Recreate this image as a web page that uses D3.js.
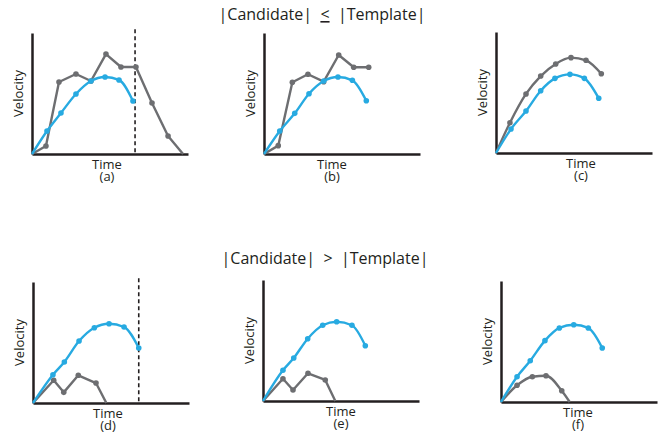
<!DOCTYPE html>
<html>
<head>
<meta charset="utf-8">
<script src="https://d3js.org/d3.v7.min.js"></script>
<style>
  body { margin: 0; background: #fff; }
  svg { display: block; font-family: "Open Sans", "Liberation Sans", sans-serif; }
  .axis path { stroke: #231f20; stroke-width: 2.5; }
  .lbl { font-size: 13px; fill: #231f20; }
  .title { font-size: 16px; fill: #231f20; }
</style>
</head>
<body>
<div id="content"></div>
<script>
// velocity profiles (time units, velocity units)
var tplA = { t: [0, 1, 1.93, 2.93, 3.93, 4.87, 5.8, 6.73], v: [0, 1.9, 3.39, 4.96, 6.03, 6.36, 6.12, 4.38] };
var candA = { t: [0, 0.93, 1.8, 2.93, 3.93, 4.93, 5.93, 6.93, 8, 9.07, 10.07], v: [0, 0.66, 5.95, 6.61, 6.03, 8.26, 7.19, 7.19, 4.21, 1.49, 0] };

var tplB = { t: [0, 1.05, 2.05, 3, 3.98, 4.93, 5.89, 6.82], v: [0, 1.9, 3.36, 4.98, 6.03, 6.36, 6.09, 4.4] };
var candB = { t: [0, 0.95, 1.89, 2.93, 3.98, 4.98, 5.98, 6.98], v: [0, 0.69, 5.93, 6.59, 5.98, 8.18, 7.17, 7.17] };

var tplC = { t: [0, 1, 2, 2.98, 3.93, 4.93, 5.89, 6.85], v: [0, 1.98, 3.47, 5.15, 6.17, 6.5, 6.17, 4.52] };
var candC = { t: [0, 0.93, 2, 2.98, 3.98, 5, 6, 7.02], v: [0, 2.5, 4.88, 6.36, 7.36, 7.88, 7.66, 6.55] };

var tplD = { t: [0, 1.33, 2.09, 3.07, 4.09, 5.07, 6.07, 7.05], v: [0, 2.34, 3.39, 5.12, 6.22, 6.55, 6.28, 4.55] };
var candD = { t: [0, 1.38, 2.05, 3.02, 4.2, 4.89], v: [0, 1.88, 0.88, 2.29, 1.65, 0] };

var tplE = { t: [0, 1.33, 2.05, 2.98, 3.98, 4.91, 5.93, 6.82], v: [0, 2.54, 3.55, 5.15, 6.26, 6.55, 6.26, 4.57] };
var candE = { t: [0, 1.33, 2, 3, 4.15, 4.82], v: [0, 1.84, 0.91, 2.29, 1.74, 0] };

var tplF = { t: [0, 1.07, 1.95, 2.93, 3.89, 4.85, 5.82, 6.75], v: [0, 2.09, 3.41, 5.07, 6.12, 6.39, 6.12, 4.46] };
var candF = { t: [0, 1.07, 2.09, 3, 4.05, 4.58], v: [0, 1.38, 2.09, 2.17, 0.93, 0] };

var panelNames = ['(a)', '(b)', '(c)', '(d)', '(e)', '(f)'];
var cutTimes = [6.87, null, null, 7.05, null, null];   // dashed cut-off markers

// layout: axis origin of each small chart
var layout = [
  { x: 32, y: 154, lx: 75, smoothCand: false, tpl: tplA, cand: candA },
  { x: 264, y: 154, lx: 68, smoothCand: false, tpl: tplB, cand: candB },
  { x: 496, y: 153, lx: 85, smoothCand: true, tpl: tplC, cand: candC },
  { x: 33, y: 403, lx: 75, smoothCand: false, tpl: tplD, cand: candD },
  { x: 263, y: 401, lx: 78, smoothCand: false, tpl: tplE, cand: candE },
  { x: 501, y: 402, lx: 77, smoothCand: true, tpl: tplF, cand: candF }
];

var width = 658, height = 435;
var plotW = 156, plotH = 121;
var grey = '#6d6e71', blue = '#27aae1';

var svg = d3.select('#content').append('svg')
  .attr('width', width)
  .attr('height', height);

var x = d3.scaleLinear().domain([0, 10.4]).range([0, plotW]);
var y = d3.scaleLinear().domain([0, 10]).range([plotH, 0]);

function toPts(s) {
  return s.t.map(function(t, i) { return { t: t, v: s.v[i] }; });
}

layout.forEach(function(p, i) {
  var g = svg.append('g').attr('transform', 'translate(' + p.x + ',' + (p.y - plotH) + ')');

  if (cutTimes[i] != null) {
    g.append('line')
      .attr('x1', x(cutTimes[i])).attr('x2', x(cutTimes[i]))
      .attr('y1', y(10.3)).attr('y2', y(0))
      .attr('stroke', '#231f20')
      .attr('stroke-width', 1.6)
      .attr('stroke-dasharray', '4,3');
  }

  g.append('g').attr('class', 'axis')
    .attr('transform', 'translate(0,' + plotH + ')')
    .call(d3.axisBottom(x).tickValues([]).tickSizeOuter(0));
  g.append('g').attr('class', 'axis')
    .call(d3.axisLeft(y).tickValues([]).tickSizeOuter(0));

  var series = [
    { pts: toPts(p.cand), color: grey, curve: p.smoothCand ? d3.curveMonotoneX : d3.curveLinear },
    { pts: toPts(p.tpl), color: blue, curve: d3.curveMonotoneX }
  ];

  series.forEach(function(s) {
    var line = d3.line()
      .x(function(d) { return x(d.t); })
      .y(function(d) { return y(d.v); })
      .curve(s.curve);
    g.append('path')
      .datum(s.pts)
      .attr('fill', 'none')
      .attr('stroke', s.color)
      .attr('stroke-width', 2.4)
      .attr('stroke-linejoin', 'round')
      .attr('d', line);
    g.selectAll(null)
      .data(s.pts.filter(function(d) { return d.v > 0; }))
      .enter().append('circle')
      .attr('cx', function(d) { return x(d.t); })
      .attr('cy', function(d) { return y(d.v); })
      .attr('r', 2.8)
      .attr('fill', s.color);
  });

  g.append('text').attr('class', 'lbl')
    .attr('transform', 'translate(-9,' + (plotH / 2) + ') rotate(-90)')
    .attr('text-anchor', 'middle')
    .text('Velocity');

  // "Time" plus the panel letter beneath it, as one text block
  var tl = g.append('text').attr('class', 'lbl')
    .attr('text-anchor', 'middle');
  tl.append('tspan').attr('x', p.lx).attr('y', plotH + 14.5).text('Time');
  tl.append('tspan').attr('x', p.lx).attr('y', plotH + 26.5).text(panelNames[i]);
});

// row headings
function heading(cx, by, op, underline) {
  var t = svg.append('text').attr('class', 'title')
    .attr('x', cx).attr('y', by)
    .attr('text-anchor', 'middle')
    .attr('xml:space', 'preserve');
  t.append('tspan').text('|Candidate|  ');
  t.append('tspan').text(op).style('text-decoration', underline ? 'underline' : 'none');
  t.append('tspan').text('  |Template|');
}
heading(322, 20, '<', true);
heading(325, 264, '>', false);
</script>
</body>
</html>
